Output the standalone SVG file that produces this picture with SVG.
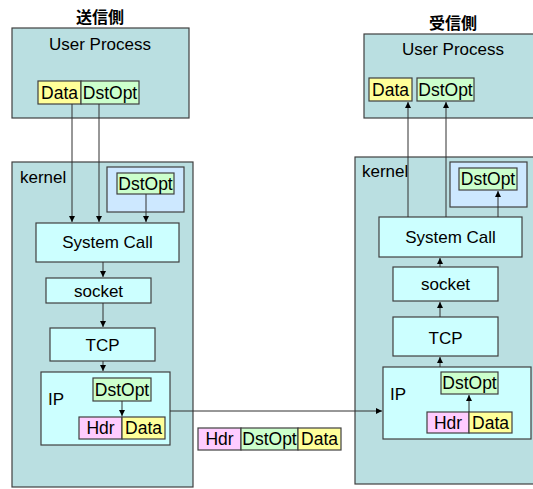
<svg xmlns="http://www.w3.org/2000/svg" width="533" height="489" viewBox="0 0 533 489">
  <defs>
    <marker id="arrow" markerWidth="6" markerHeight="6" refX="6" refY="3" orient="auto" markerUnits="userSpaceOnUse">
      <path d="M0,0 L6,3 L0,6 Z" fill="#000"/>
    </marker>
    <style>
      .outer { fill: #badfe1; stroke: #404040; stroke-width: 1.2; }
      .inner { fill: #ccffff; stroke: #404040; stroke-width: 1.2; }
      .holder { fill: #cde8ff; stroke: #404040; stroke-width: 1.2; }
      .data { fill: #ffff99; stroke: #404040; stroke-width: 1.2; }
      .opt { fill: #ccffcc; stroke: #404040; stroke-width: 1.2; }
      .hdr { fill: #ffccff; stroke: #404040; stroke-width: 1.2; }
      text { font-family: "Liberation Sans", Arial, sans-serif; fill: #000; }
      .lbl { font-size: 17px; text-anchor: middle; }
      .small { font-size: 17.5px; text-anchor: middle; }
      .title { font-family: "Noto Sans CJK JP", sans-serif; font-size: 16px; font-weight: bold; text-anchor: middle; }
      .conn line { stroke: #303030; stroke-width: 1; marker-end: url(#arrow); }
    </style>
  </defs>

  <!-- sender side -->
  <text class="title" x="100" y="23">送信側</text>
  <g id="send-user">
    <rect class="outer" x="12" y="28" width="177" height="90"/>
    <text class="lbl" x="100" y="50">User Process</text>
  </g>
  <g id="send-kernel">
    <rect class="outer" x="12" y="162" width="181" height="325"/>
    <text class="lbl" x="20" y="183" style="text-anchor:start">kernel</text>
  </g>
  <g id="send-user-data">
    <rect class="data" x="38" y="81" width="43" height="23"/>
    <text class="small" x="59.5" y="99">Data</text>
  </g>
  <g id="send-user-opt">
    <rect class="opt" x="81" y="81" width="58" height="23"/>
    <text class="small" x="110" y="99">DstOpt</text>
  </g>
  <g id="send-opt-holder">
    <rect class="holder" x="107" y="167" width="77" height="45"/>
  </g>
  <g id="send-opt">
    <rect class="opt" x="117" y="173" width="57" height="21"/>
    <text class="small" x="145.5" y="190">DstOpt</text>
  </g>
  <g id="send-syscall">
    <rect class="inner" x="36" y="223" width="143" height="39"/>
    <text class="lbl" x="107.5" y="248">System Call</text>
  </g>
  <g id="send-socket">
    <rect class="inner" x="46" y="278" width="105" height="25"/>
    <text class="lbl" x="98.5" y="297">socket</text>
  </g>
  <g id="send-tcp">
    <rect class="inner" x="50" y="328" width="105" height="33"/>
    <text class="lbl" x="102.5" y="351">TCP</text>
  </g>
  <g id="send-ip">
    <rect class="inner" x="41" y="372" width="129" height="73"/>
    <text class="lbl" x="48" y="405" style="text-anchor:start">IP</text>
  </g>
  <g id="send-ip-opt">
    <rect class="opt" x="93" y="378" width="58" height="23"/>
    <text class="small" x="122" y="396">DstOpt</text>
  </g>
  <g id="send-ip-hdr">
    <rect class="hdr" x="79" y="417" width="43" height="22"/>
    <text class="small" x="100.5" y="434">Hdr</text>
  </g>
  <g id="send-ip-data">
    <rect class="data" x="122" y="417" width="43" height="22"/>
    <text class="small" x="143.5" y="434">Data</text>
  </g>

  <!-- packet on the wire -->
  <g id="wire-hdr">
    <rect class="hdr" x="198" y="428" width="43" height="22"/>
    <text class="small" x="219.5" y="445">Hdr</text>
  </g>
  <g id="wire-opt">
    <rect class="opt" x="241" y="428" width="57" height="22"/>
    <text class="small" x="269.5" y="445">DstOpt</text>
  </g>
  <g id="wire-data">
    <rect class="data" x="298" y="428" width="43" height="22"/>
    <text class="small" x="319.5" y="445">Data</text>
  </g>

  <!-- receiver side -->
  <text class="title" x="453" y="29">受信側</text>
  <g id="recv-user">
    <rect class="outer" x="364" y="34" width="175" height="84"/>
    <text class="lbl" x="453" y="55">User Process</text>
  </g>
  <g id="recv-kernel">
    <rect class="outer" x="355" y="157" width="185" height="327"/>
    <text class="lbl" x="362" y="177" style="text-anchor:start">kernel</text>
  </g>
  <g id="recv-user-data">
    <rect class="data" x="369" y="78" width="43" height="23"/>
    <text class="small" x="390.5" y="96">Data</text>
  </g>
  <g id="recv-user-opt">
    <rect class="opt" x="417" y="78" width="57" height="23"/>
    <text class="small" x="445.5" y="96">DstOpt</text>
  </g>
  <g id="recv-opt-holder">
    <rect class="holder" x="450" y="162" width="77" height="45"/>
  </g>
  <g id="recv-opt">
    <rect class="opt" x="459" y="168" width="58" height="22"/>
    <text class="small" x="488" y="185">DstOpt</text>
  </g>
  <g id="recv-syscall">
    <rect class="inner" x="379" y="217" width="143" height="40"/>
    <text class="lbl" x="450.5" y="243">System Call</text>
  </g>
  <g id="recv-socket">
    <rect class="inner" x="393" y="267" width="105" height="34"/>
    <text class="lbl" x="445.5" y="290">socket</text>
  </g>
  <g id="recv-tcp">
    <rect class="inner" x="393" y="317" width="105" height="39"/>
    <text class="lbl" x="445.5" y="344">TCP</text>
  </g>
  <g id="recv-ip">
    <rect class="inner" x="383" y="367" width="148" height="72"/>
    <text class="lbl" x="390" y="400" style="text-anchor:start">IP</text>
  </g>
  <g id="recv-ip-opt">
    <rect class="opt" x="441" y="372" width="57" height="22"/>
    <text class="small" x="469.5" y="389">DstOpt</text>
  </g>
  <g id="recv-ip-hdr">
    <rect class="hdr" x="427" y="412" width="42" height="21"/>
    <text class="small" x="448" y="429">Hdr</text>
  </g>
  <g id="recv-ip-data">
    <rect class="data" x="469" y="412" width="43" height="21"/>
    <text class="small" x="490.5" y="429">Data</text>
  </g>

  <!-- connectors -->
  <g id="connectors" class="conn">
    <line x1="72" y1="104" x2="72" y2="222"/>
    <line x1="99" y1="104" x2="99" y2="222"/>
    <line x1="146" y1="194" x2="146" y2="222"/>
    <line x1="103" y1="262" x2="103" y2="277"/>
    <line x1="103" y1="303" x2="103" y2="327"/>
    <line x1="103" y1="361" x2="103" y2="371"/>
    <line x1="122" y1="401" x2="122" y2="416"/>
    <line x1="170" y1="411" x2="382" y2="411"/>
    <line x1="408" y1="217" x2="408" y2="102"/>
    <line x1="446" y1="217" x2="446" y2="102"/>
    <line x1="498" y1="217" x2="498" y2="191"/>
    <line x1="440" y1="267" x2="440" y2="258"/>
    <line x1="440" y1="317" x2="440" y2="302"/>
    <line x1="440" y1="367" x2="440" y2="357"/>
    <line x1="469" y1="412" x2="469" y2="395"/>
  </g>
</svg>
